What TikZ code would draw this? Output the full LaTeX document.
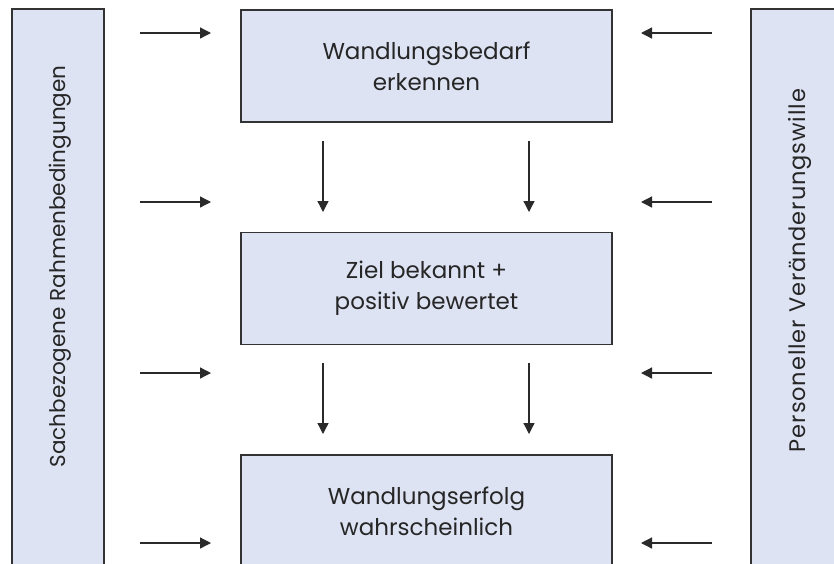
\documentclass[tikz,border=0pt]{standalone}
\usepackage{fontspec}
\setmainfont{Poppins}
\newfontfamily\widefont[LetterSpace=4]{Poppins}
\usetikzlibrary{arrows.meta}
\definecolor{boxfill}{HTML}{DDE3F3}
\definecolor{boxline}{HTML}{333333}
\definecolor{txt}{HTML}{262626}
\definecolor{arr}{HTML}{2A2A2A}
\tikzset{
  stagebox/.style={draw=boxline, line width=1.2pt, fill=boxfill, minimum width=371pt, minimum height=112pt, inner sep=0pt, text=txt, font=\fontsize{23}{31}\selectfont, align=center},
  sidebox/.style={draw=boxline, line width=1.2pt, fill=boxfill, minimum width=92pt, minimum height=620pt, inner sep=0pt},
  sidelabel/.style={text=txt, font=\fontsize{21.5}{28}\selectfont, rotate=90, inner sep=0pt},
  sidelabelwide/.style={text=txt, font=\widefont\fontsize{22.5}{28}\selectfont, rotate=90, inner sep=0pt}
}
\tikzset{flow/.style={draw=arr, line width=1.3pt, -{Triangle[length=11pt,width=11pt]}}}
\begin{document}
\begin{tikzpicture}[x=1pt,y=-1pt]
\useasboundingbox[fill=white] (0,0) rectangle (834,563);
% side boxes
\node[sidebox] (L) at (58,319) {};
\node[sidebox] (R) at (797,319) {};
\node[sidelabel] (Ltext) at (60,266.5) {Sachbezogene Rahmenbedingungen};
\node[sidelabelwide] (Rtext) at (800,270.5) {Personeller Veränderungswille};
% stage boxes
\node[stagebox] (A) at (426.5,66) {Wandlungsbedarf\\erkennen};
\node[stagebox] (B) at (426.5,288.5) {Ziel bekannt +\\positiv bewertet};
\node[stagebox] (C) at (426.5,511) {Wandlungserfolg\\wahrscheinlich};
% coordinates for arrows
\foreach \n/\y in {1/33,2/202,3/373,4/543}{
  \coordinate (ls\n) at (140,\y);
  \coordinate (le\n) at (211,\y);
  \coordinate (rs\n) at (712,\y);
  \coordinate (re\n) at (641,\y);
  \draw[flow] (ls\n) -- (le\n);
  \draw[flow] (rs\n) -- (re\n);
}
\coordinate (v1s) at (323,141); \coordinate (v1e) at (323,212);
\coordinate (v2s) at (529,141); \coordinate (v2e) at (529,212);
\coordinate (v3s) at (323,363); \coordinate (v3e) at (323,434);
\coordinate (v4s) at (529,363); \coordinate (v4e) at (529,434);
\draw[flow] (v1s) -- (v1e);
\draw[flow] (v2s) -- (v2e);
\draw[flow] (v3s) -- (v3e);
\draw[flow] (v4s) -- (v4e);
\end{tikzpicture}
\end{document}
